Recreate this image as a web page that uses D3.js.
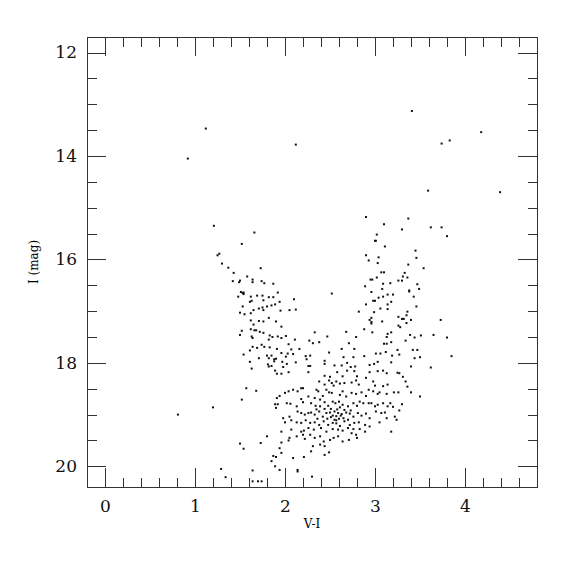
<!DOCTYPE html>
<html>
<head>
<meta charset="utf-8">
<script src="https://cdn.jsdelivr.net/npm/d3@7"></script>
<style>
  body { margin: 0; background: #fff; }
  .tick text { font-family: "DejaVu Serif", serif; }
</style>
</head>
<body>
<svg id="chart" width="575" height="575"></svg>
<script>
// colour-magnitude diagram, [V-I, I] pairs
const brightStars = [
  [1.12,13.47],[0.92,14.05],[2.12,13.78],[1.21,15.35],[1.66,15.48],[1.52,15.70],[1.25,15.92],[1.27,15.89],
  [3.41,13.13],[4.18,13.54],[3.83,13.70],[3.74,13.76],[4.39,14.70],[3.59,14.67],[3.37,15.21],[3.10,15.32],
  [3.30,15.42],[3.62,15.38],[3.74,15.38],[3.80,15.55],[3.02,15.52],[3.00,15.64],[3.01,15.64],[3.11,15.75],
  [3.45,15.83],[3.04,15.96],[3.46,15.97],[2.90,15.18],[0.81,19.00]
];

const redBranch = [
  [2.90,15.92],[2.93,16.02],[3.03,16.07],[3.37,16.10],[3.54,16.17],[3.07,16.25],[3.10,16.25],[3.33,16.26],
  [3.31,16.33],[3.36,16.35],[3.02,16.35],[2.95,16.39],[2.97,16.39],[3.26,16.41],[3.30,16.41],[3.17,16.46],
  [3.09,16.47],[3.47,16.48],[2.89,16.52],[3.08,16.57],[3.49,16.57],[3.38,16.60],[3.38,16.62],[2.96,16.63],
  [3.20,16.68],[3.14,16.68],[3.09,16.72],[3.04,16.74],[3.43,16.72],[2.98,16.80],[3.00,16.80],[3.18,16.82],
  [2.90,16.87],[3.14,16.87],[3.46,16.91],[3.06,16.95],[3.14,16.96],[2.82,17.01],[2.99,17.02],[3.36,17.01],
  [2.96,17.13],[2.94,17.17],[3.26,17.11],[3.30,17.15],[3.32,17.15],[3.35,17.08],[3.40,17.17],[2.96,17.21],
  [2.96,17.24],[3.08,17.20],[3.35,17.23],[3.73,17.17],[3.26,17.28],[3.28,17.31],[2.88,17.35],[2.97,17.41],
  [2.68,17.40],[2.79,17.50],[3.14,17.44],[3.13,17.50],[3.18,17.41],[3.39,17.46],[3.44,17.51],[3.51,17.47],
  [3.65,17.46],[3.80,17.51],[3.10,17.63],[3.13,17.63],[3.18,17.60],[3.34,17.57],[2.71,17.62],[2.63,17.73],
  [2.77,17.73],[3.06,17.82],[3.12,17.79],[3.25,17.75],[3.42,17.75],[3.47,17.75],[3.85,17.87],[2.88,17.87],
  [3.01,17.82],[2.65,17.89],[2.76,17.89],[3.19,17.86],[3.27,17.84],[3.44,17.91],[3.50,17.89],[3.18,17.99],
  [3.62,18.09],[3.40,18.07],[2.55,18.05],[2.63,18.05],[2.69,18.00],[2.73,18.08],[2.78,18.07],[2.94,18.04],
  [2.99,18.02],[3.03,17.98],[3.25,18.19],[3.27,18.20],[3.31,18.27],[3.34,18.36],[3.26,18.57],[3.21,18.57],
  [3.36,18.46],[3.40,18.57],[3.50,18.65],[3.30,18.80],[3.27,18.92],
  [3.17,18.78],[3.20,18.85],[3.22,19.04],[3.24,19.10],[3.18,19.33]
];

const blueBranch = [
  [1.30,16.08],[1.37,16.16],[1.43,16.26],[1.73,16.17],[1.58,16.33],[1.42,16.42],[1.49,16.44],[1.50,16.41],
  [1.64,16.39],[1.64,16.44],[1.74,16.42],[1.77,16.46],[1.87,16.47],[1.51,16.63],[1.53,16.65],[1.54,16.64],
  [1.54,16.67],[1.48,16.72],[1.62,16.72],[1.69,16.70],[1.75,16.70],[1.82,16.73],[1.87,16.73],[1.92,16.64],
  [1.63,16.80],[1.61,16.82],[1.76,16.79],[2.10,16.77],[1.94,16.82],[1.53,16.91],[1.80,16.91],[1.85,16.89],
  [1.89,16.87],[1.65,16.98],[1.71,16.95],[1.75,16.93],[1.76,16.98],[1.50,17.03],[1.55,17.06],[1.62,17.04],
  [1.95,16.99],[2.05,16.98],[2.12,16.97],[1.82,17.13],[1.62,17.18],[1.65,17.26],[1.71,17.19],[1.76,17.20],
  [1.90,17.20],[1.96,17.30],[1.52,17.38],[1.62,17.35],[1.66,17.37],[1.68,17.37],[1.72,17.40],[1.76,17.42],
  [1.50,17.46],[1.63,17.49],[1.64,17.52],[1.83,17.47],[1.82,17.55],[1.86,17.50],[1.92,17.49],[1.96,17.52],
  [2.01,17.48],[2.11,17.55],[1.74,17.65],[1.77,17.69],[1.64,17.69],[1.69,17.71],[1.83,17.70],[1.91,17.73],
  [2.04,17.64],[1.96,17.81],[2.07,17.74],[1.54,17.84],[1.61,17.76],[1.71,17.91],[1.80,17.86],[1.82,17.91],
  [1.85,17.86],[1.88,17.93],[1.90,17.92],[2.01,17.88],[2.03,17.82],[2.09,17.83],[2.16,17.73],[1.61,17.98],
  [1.81,18.03],[1.82,18.07],[1.85,18.06],[1.88,17.97],[1.97,17.98],[2.02,18.02],[2.12,17.99],[1.63,18.11],
  [1.98,18.08],[2.23,17.87],[2.24,17.93],[2.28,17.86],[2.26,18.06],[2.28,18.06],[2.33,17.41],[2.27,17.57],
  [2.31,17.62],[2.38,17.60],[2.47,17.49],[2.52,16.66],[2.49,17.80],[2.44,17.96],[2.44,18.02],[1.57,18.49],
  [1.68,18.54],[1.52,18.71],[1.20,18.86],[1.80,19.42],[1.73,19.55],[1.50,19.56],[1.54,19.66]
];

const faintStars = [
  [1.29,20.05],[1.64,20.08],[1.34,20.21],[2.30,20.20],[1.64,20.29],[1.70,20.29],[1.74,20.29],[2.14,20.07],[2.14,20.10]
];

const coreStars = [
  [1.89,18.15],[1.91,18.21],[1.96,18.21],[2.04,18.18],[2.26,18.18],[2.44,18.25],[2.50,18.27],[2.58,18.18],
  [2.64,18.26],[2.69,18.15],[2.77,18.16],[2.80,18.26],[2.94,18.18],[3.03,18.16],[3.09,18.15],[3.13,18.20],
  [2.38,18.36],[2.44,18.42],[2.49,18.34],[2.52,18.39],[2.54,18.44],[2.57,18.36],[2.61,18.40],[2.66,18.39],
  [2.74,18.38],[2.79,18.34],[2.82,18.42],[2.90,18.29],[2.98,18.36],[3.00,18.44],[3.09,18.45],[3.14,18.42],
  [2.18,18.49],[2.20,18.49],[2.09,18.52],[2.14,18.55],[2.04,18.55],
  [2.35,18.52],[2.37,18.55],[2.46,18.52],[2.49,18.57],[2.52,18.58],[2.61,18.62],[2.64,18.55],[2.68,18.65],
  [2.74,18.58],[2.79,18.60],[2.85,18.57],[2.90,18.64],[2.93,18.52],[2.98,18.55],[3.03,18.60],[3.05,18.57],
  [3.13,18.60],[1.91,18.68],[1.94,18.64],[2.00,18.58],[2.18,18.70],[2.26,18.65],[2.33,18.68],[2.39,18.71],
  [2.42,18.64],
  [1.89,18.80],[1.92,18.80],[2.02,18.78],[2.06,18.79],[2.13,18.84],[2.20,18.76],[2.29,18.78],[2.34,18.83],
  [2.39,18.84],[2.44,18.76],[2.48,18.83],[2.53,18.75],[2.56,18.78],[2.60,18.75],[2.64,18.81],[2.70,18.84],
  [2.76,18.78],[2.80,18.83],[2.83,18.75],[2.87,18.78],[2.93,18.78],[2.96,18.78],[3.00,18.84],[3.03,18.81],
  [3.09,18.78],[3.14,18.84],[1.90,18.87],
  [2.14,18.94],[2.18,18.97],[2.22,19.00],[2.26,18.97],[2.29,18.96],[2.33,19.00],[2.38,18.94],[2.42,19.04],
  [2.46,18.97],[2.50,18.96],[2.53,19.02],[2.55,18.94],[2.59,18.97],[2.62,19.02],[2.65,19.07],[2.68,18.96],
  [2.72,18.98],[2.76,19.04],[2.81,18.97],[2.85,19.02],[2.90,18.98],[2.94,19.07],[3.01,18.94],[3.07,18.97],
  [3.11,18.96],[3.13,19.07],[1.98,19.07],[2.05,19.04],
  [2.00,19.15],[2.07,19.11],[2.13,19.15],[2.18,19.16],[2.23,19.11],[2.28,19.16],[2.33,19.15],[2.38,19.20],
  [2.43,19.13],[2.48,19.20],[2.53,19.16],[2.57,19.11],[2.61,19.22],[2.66,19.13],[2.72,19.20],[2.77,19.16],
  [2.82,19.15],[2.89,19.20],[2.94,19.23],[3.05,19.15],[2.26,19.26],[2.32,19.29],[2.40,19.26],[2.46,19.33],
  [2.53,19.28],[2.59,19.29],[2.64,19.31],[2.70,19.26],[2.76,19.28],[2.83,19.28],[2.89,19.33],[2.74,19.36],
  [2.18,19.33],[2.21,19.31],[2.07,19.29],[1.96,19.33],
  [2.05,19.45],[2.04,19.50],[2.13,19.42],[2.20,19.39],[2.22,19.47],[2.28,19.39],[2.33,19.45],[2.39,19.42],
  [2.43,19.52],[2.50,19.49],[2.54,19.45],[2.59,19.42],[2.64,19.52],[2.71,19.49],[2.79,19.39],[2.80,19.45],
  [1.96,19.54],[2.31,19.61],[2.39,19.58],[2.44,19.61],
  [1.94,19.65],[1.87,19.80],[1.90,19.82],[1.85,19.90],[1.96,19.74],[2.09,19.84],[2.21,19.82],[2.29,19.71],
  [2.44,19.78],[2.49,19.73],[1.89,20.00],[1.94,20.07],
  [2.51,19.05],[2.57,19.03],[2.60,19.08],[2.55,19.10],[2.63,18.99],[2.47,19.08],[2.58,18.90],[2.66,18.91],
  [2.51,18.89],[2.70,19.10],[2.36,19.08],[2.44,18.89],[2.61,18.86],[2.73,18.92],[2.35,18.90],[2.57,19.17]
];

const xMajor = [0, 1, 2, 3, 4];
const yMajor = [12, 14, 16, 18, 20];
const xTitle = "V-I";
const yTitle = "I (mag)";

const margin = {left: 87, top: 37};
const w = 450, h = 450;

const svg = d3.select("#chart");
const g = svg.append("g").attr("transform", `translate(${margin.left},${margin.top})`);

const x = d3.scaleLinear().domain([-0.2, 4.8]).range([0, w]);
const y = d3.scaleLinear().domain([11.7, 20.4]).range([0, h]);

const xMinor = d3.range(0, 4.81, 0.2).filter(v => Math.abs(v - Math.round(v)) > 0.01);
const yMinor = d3.range(12, 20.41, 0.5).filter(v => Math.round(v) % 2 !== 0 || Math.abs(v - Math.round(v)) > 0.01);

function styleAxis(sel) {
  sel.select(".domain").remove();
  sel.selectAll(".tick line").attr("stroke", "#333").attr("shape-rendering", "crispEdges");
  sel.selectAll(".tick text").attr("fill", "#111").style("font-size", "17px");
}

// bottom
g.append("g").attr("transform", `translate(0,${h})`)
  .call(d3.axisBottom(x).tickValues(xMajor).tickSize(-19).tickPadding(13).tickFormat(d3.format("d")))
  .call(styleAxis);
g.append("g").attr("transform", `translate(0,${h})`)
  .call(d3.axisBottom(x).tickValues(xMinor).tickSize(-9.5).tickFormat(""))
  .call(styleAxis);
// top
g.append("g")
  .call(d3.axisTop(x).tickValues(xMajor).tickSize(-19).tickFormat(""))
  .call(styleAxis);
g.append("g")
  .call(d3.axisTop(x).tickValues(xMinor).tickSize(-9.5).tickFormat(""))
  .call(styleAxis);
// left
g.append("g")
  .call(d3.axisLeft(y).tickValues(yMajor).tickSize(-19).tickPadding(10).tickFormat(d3.format("d")))
  .call(styleAxis);
g.append("g")
  .call(d3.axisLeft(y).tickValues(yMinor).tickSize(-9.5).tickFormat(""))
  .call(styleAxis);
// right
g.append("g").attr("transform", `translate(${w},0)`)
  .call(d3.axisRight(y).tickValues(yMajor).tickSize(-19).tickFormat(""))
  .call(styleAxis);
g.append("g").attr("transform", `translate(${w},0)`)
  .call(d3.axisRight(y).tickValues(yMinor).tickSize(-9.5).tickFormat(""))
  .call(styleAxis);

g.append("rect")
  .attr("width", w).attr("height", h)
  .attr("fill", "none").attr("stroke", "#333").attr("stroke-width", 1)
  .attr("shape-rendering", "crispEdges");

const allStars = brightStars.concat(redBranch, blueBranch, faintStars, coreStars);

g.append("g").selectAll("rect")
  .data(allStars)
  .enter().append("rect")
  .attr("x", d => x(d[0]) - 1)
  .attr("y", d => y(d[1]) - 1)
  .attr("width", 2)
  .attr("height", 2)
  .attr("fill", "#111");

svg.append("text")
  .attr("x", margin.left + w / 2)
  .attr("y", 528)
  .attr("text-anchor", "middle")
  .style("font-family", "DejaVu Serif, serif")
  .style("font-size", "12px")
  .text(xTitle);

svg.append("text")
  .attr("transform", `translate(38,${margin.top + h / 2}) rotate(-90)`)
  .attr("text-anchor", "middle")
  .style("font-family", "DejaVu Serif, serif")
  .style("font-size", "12px")
  .text(yTitle);
</script>
</body>
</html>
